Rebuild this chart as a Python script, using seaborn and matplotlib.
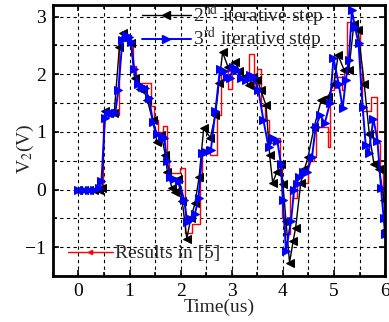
import numpy as np
import pandas as pd
import matplotlib
matplotlib.use('Agg')
import matplotlib.pyplot as plt
from matplotlib.lines import Line2D
from matplotlib.ticker import MultipleLocator
import seaborn as sns

# ── data ─────────────────────────────────────────────────────────
# 2nd iterative step (black)
t2 = [0.0, 0.1, 0.2, 0.3, 0.4, 0.46, 0.52, 0.6, 0.7, 0.8, 0.87, 0.95, 1.02, 1.1,
      1.2, 1.27, 1.35, 1.45, 1.54, 1.62, 1.7, 1.74, 1.83, 1.88, 1.94, 2.03, 2.12,
      2.2, 2.28, 2.36, 2.45, 2.58, 2.68, 2.75, 2.82, 2.93, 3.07, 3.15, 3.24, 3.33,
      3.42, 3.5, 3.57, 3.67, 3.74, 3.8, 3.88, 3.96, 4.0, 4.06, 4.13, 4.2, 4.25,
      4.35, 4.42, 4.49, 4.61, 4.75, 4.88, 5.0, 5.08, 5.2, 5.29, 5.39, 5.47, 5.59,
      5.69, 5.78, 5.88, 5.98, 6.0]
v2 = [0.0, 0.0, 0.0, 0.0, 0.0, 0.02, 1.37, 1.33, 1.33, 2.47, 2.71, 2.62, 2.55, 1.93,
      1.75, 1.74, 1.55, 1.2, 0.82, 0.95, 0.6, 0.3, 0.03, -0.05, 0.19, -0.2, -0.85,
      -0.49, -0.24, 0.21, 1.06, 0.9, 1.29, 1.85, 2.38, 2.12, 2.21, 2.05, 1.95, 1.81,
      1.95, 1.9, 1.72, 1.46, 0.6, 0.12, 0.3, 0.45, 0.1, -0.54, -1.27, -0.9, -0.66,
      0.12, 0.35, 0.56, 1.08, 1.55, 1.6, 1.84, 2.33, 2.07, 2.07, 2.88, 2.77, 1.84,
      0.97, 0.45, 0.36, -0.19, -0.7]

# 3rd iterative step (blue)
t3 = [0.0, 0.1, 0.2, 0.3, 0.4, 0.45, 0.52, 0.58, 0.66, 0.72, 0.78, 0.86, 0.93, 0.98,
      1.03, 1.09, 1.16, 1.24, 1.3, 1.38, 1.46, 1.53, 1.63, 1.68, 1.73, 1.8, 1.87,
      1.97, 2.07, 2.13, 2.2, 2.28, 2.35, 2.42, 2.5, 2.59, 2.68, 2.77, 2.84, 2.9,
      2.96, 3.03, 3.1, 3.19, 3.27, 3.35, 3.43, 3.52, 3.62, 3.72, 3.81, 3.89, 3.96,
      4.0, 4.06, 4.16, 4.22, 4.27, 4.31, 4.39, 4.47, 4.57, 4.64, 4.73, 4.82, 4.92,
      4.99, 5.09, 5.17, 5.23, 5.29, 5.35, 5.41, 5.48, 5.56, 5.62, 5.68, 5.77, 5.85,
      5.92, 5.97, 6.0]
v3 = [0.0, 0.0, 0.0, 0.0, 0.02, 0.15, 1.25, 1.32, 1.32, 1.33, 1.72, 2.6, 2.68, 2.65,
      2.56, 2.1, 1.84, 1.78, 1.76, 1.58, 1.17, 0.97, 0.93, 0.9, 0.5, 0.21, 0.19,
      0.14, -0.19, -0.57, -0.52, -0.42, -0.14, 0.63, 0.65, 0.68, 1.37, 2.1, 2.05, 1.95,
      1.93, 2.12, 2.07, 1.93, 1.9, 1.98, 1.95, 1.72, 1.2, 0.73, 0.9, 0.85, 0.45,
      -0.19, -1.06, -0.54, 0.0, 0.1, 0.21, 0.3, 0.3, 0.56, 1.08, 1.29, 1.15, 1.5,
      2.28, 1.84, 1.41, 1.9, 2.24, 3.11, 2.82, 2.54, 1.43, 0.77, 0.64, 1.23, 0.85,
      0.03, -0.49, -0.77]

# Results in [5] (red, stepped)
t5 = [0.0, 0.48, 0.80, 0.98, 1.06, 1.12, 1.42, 1.47, 1.55, 1.65, 1.73, 1.78, 1.98,
      2.08, 2.22, 2.38, 2.42, 2.58, 2.72, 2.78, 2.93, 3.0, 3.1, 3.2, 3.33, 3.43,
      3.5, 3.58, 3.65, 3.72, 3.9, 3.95, 3.99, 4.04, 4.13, 4.2, 4.28, 4.5, 4.6, 4.64,
      4.88, 4.92, 5.0, 5.15, 5.2, 5.26, 5.38, 5.5, 5.55, 5.72, 5.85, 5.9, 5.96, 6.0]
v5 = [0.0, 1.3, 2.62, 2.5, 2.15, 1.85, 1.45, 1.2, 1.0, 1.1, 0.55, 0.28, 0.37,
      -0.75, -0.6, 0.15, 0.68, 0.6, 1.3, 2.07, 1.75, 2.2, 2.05, 1.9, 2.36, 1.75,
      2.1, 1.45, 1.2, 0.8, 0.9, 0.4, -0.5, -0.77, 0.03, -0.14, 0.12, 0.5, 0.56, 1.08,
      0.73, 1.72, 1.95, 1.72, 2.07, 2.9, 2.77, 2.12, 1.37, 1.6, 0.8, 0.38, -0.19, -0.5]

x_ticks = [0, 1, 2, 3, 4, 5, 6]
y_ticks = [-1, 0, 1, 2, 3]

FS = 14

sns.set_style('ticks')
plt.rcParams['font.family'] = ['Liberation Serif', 'DejaVu Serif']
plt.rcParams['mathtext.fontset'] = 'stix'

fig = plt.figure(figsize=(3.89, 3.22), dpi=100)
ax = fig.add_axes([0.136, 0.143, 0.854, 0.841])

df5 = pd.DataFrame({'t': t5, 'v': v5})
df2 = pd.DataFrame({'t': t2, 'v': v2})
df3 = pd.DataFrame({'t': t3, 'v': v3})

sns.lineplot(data=df5, x='t', y='v', ax=ax, sort=False, estimator=None,
             color='red', linewidth=1.0, drawstyle='steps-post')
sns.lineplot(data=df2, x='t', y='v', ax=ax, sort=False, estimator=None,
             color='black', linewidth=1.0, marker='<', markersize=5.5,
             markeredgecolor='black', markerfacecolor='black')
sns.lineplot(data=df3, x='t', y='v', ax=ax, sort=False, estimator=None,
             color='blue', linewidth=1.4, marker='>', markersize=5.5,
             markeredgecolor='blue', markerfacecolor='blue')

ax.set_xlim(-0.5, 6)
ax.set_ylim(-1.5, 3.2)
ax.set_xticks(x_ticks)
ax.set_yticks(y_ticks)
ax.xaxis.set_minor_locator(MultipleLocator(0.5))
ax.yaxis.set_minor_locator(MultipleLocator(0.5))
ax.grid(True, which='both', color='black', linestyle=(0, (3, 3)), linewidth=0.8)
ax.tick_params(which='both', direction='in', top=True, right=True,
               labelsize=FS, width=1.2, colors='black', pad=5)
ax.tick_params(which='major', length=4)
ax.tick_params(which='minor', length=3)
for s in ax.spines.values():
    s.set_linewidth(2)
    s.set_color('black')

ax.set_xlabel('Time(us)', fontsize=FS, labelpad=-1)
ax.set_ylabel('V$_2$(V)', fontsize=FS)
ax.yaxis.set_label_coords(-0.05, 0.47)

h2 = Line2D([], [], color='black', lw=1.0, marker='<', markersize=5.5)
h3 = Line2D([], [], color='blue', lw=1.4, marker='>', markersize=5.5)
leg1 = ax.legend([h2, h3],
                 ['2$^{\\mathrm{nd}}$ iterative step', '3$^{\\mathrm{rd}}$ iterative step'],
                 loc='upper left', bbox_to_anchor=(0.268, 1.01), frameon=False,
                 fontsize=FS, handlelength=2.5, handletextpad=0.15,
                 labelspacing=-0.12, borderaxespad=0, borderpad=0)
ax.add_artist(leg1)
h5 = Line2D([], [], color='red', lw=1.0, marker='<', markersize=3)
ax.legend([h5], ['Results in [5]'], loc='lower left', bbox_to_anchor=(0.045, 0.05),
          frameon=False, fontsize=FS, handlelength=2.3, handletextpad=0.15,
          borderaxespad=0, borderpad=0)

plt.savefig('out.png', dpi=100)
plt.close()
